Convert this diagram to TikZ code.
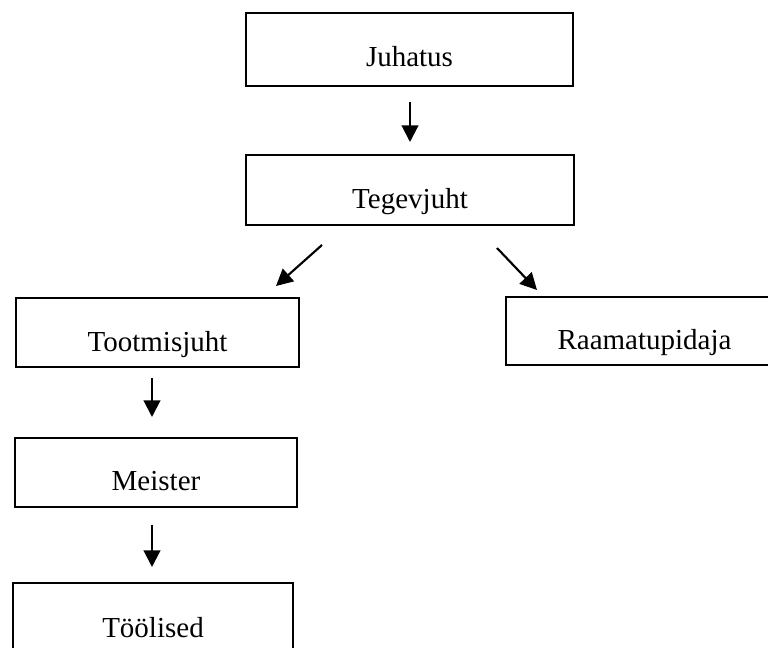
\documentclass[tikz,border=0pt]{standalone}
\usepackage{fontspec}
\setmainfont{Liberation Serif}
\usetikzlibrary{arrows.meta}
\begin{document}
\begin{tikzpicture}[x=0.75pt,y=-0.75pt,
  box/.style={draw=black, line width=1.4pt, rectangle, inner sep=0pt, outer sep=0pt},
  lbl/.style={anchor=base, inner sep=0pt, font=\fontsize{21.75}{26}\selectfont},
  arr/.style={line width=1.6pt, -{Triangle[width=12.5pt,length=12.5pt]}}]
\useasboundingbox (0,0) rectangle (768,648);
\begin{scope}
\clip (0,0) rectangle (768,648);
\node[box, minimum width=245.25pt, minimum height=54.75pt] (juh) at (409.5,49.5) {};
\node[box, minimum width=246pt, minimum height=52.5pt] (teg) at (410,190) {};
\node[box, minimum width=212.25pt, minimum height=51.75pt] (too) at (157.5,332.5) {};
\node[box, minimum width=207.75pt, minimum height=51pt] (raa) at (644.5,331) {};
\node[box, minimum width=211.5pt, minimum height=51.75pt] (mei) at (156,472.5) {};
\node[box, minimum width=210pt, minimum height=52.5pt] (tol) at (153,618) {};
\end{scope}
\node[lbl] (tjuh) at ([yshift=-40.5pt]juh.north) {Juhatus};
\node[lbl] (tteg) at ([yshift=-40.5pt]teg.north) {Tegevjuht};
\node[lbl] (ttoo) at ([yshift=-40.5pt]too.north) {Tootmisjuht};
\node[lbl] (traa) at ([yshift=-39.5pt]raa.north) {Raamatupidaja};
\node[lbl] (tmei) at ([yshift=-39.5pt]mei.north) {Meister};
\node[lbl] (ttol) at ([yshift=-40.5pt]tol.north) {Töölised};
\coordinate (a1s) at (410,102); \coordinate (a1e) at (410,142);
\coordinate (a2s) at (322,245); \coordinate (a2e) at (276,286);
\coordinate (a3s) at (497,248); \coordinate (a3e) at (537,290);
\coordinate (a4s) at (152,378); \coordinate (a4e) at (152,417);
\coordinate (a5s) at (152,525); \coordinate (a5e) at (152,567);
\draw[arr] (a1s) -- (a1e);
\draw[arr] (a2s) -- (a2e);
\draw[arr] (a3s) -- (a3e);
\draw[arr] (a4s) -- (a4e);
\draw[arr] (a5s) -- (a5e);
\end{tikzpicture}
\end{document}
